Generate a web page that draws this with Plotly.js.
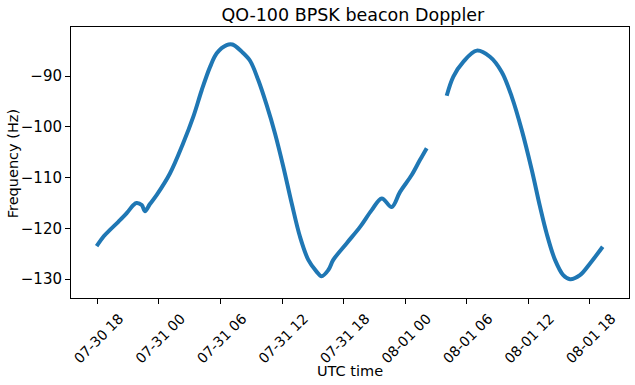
<!DOCTYPE html>
<html>
<head>
<meta charset="utf-8">
<script src="https://cdn.plot.ly/plotly-3.0.1.min.js"></script>
<style>html,body{margin:0;padding:0;background:#fff;}#chart{width:635px;height:385px;}</style>
</head>
<body>
<div id="chart"></div>
<script>
// Segment 1 of the beacon track (before the data gap)
var time1 = [
  "2020-07-30 17:55","2020-07-30 18:38","2020-07-30 19:13","2020-07-30 20:02","2020-07-30 20:51",
  "2020-07-30 21:30","2020-07-30 21:49","2020-07-30 22:19","2020-07-30 22:38","2020-07-30 23:07",
  "2020-07-30 23:47","2020-07-31 01:04","2020-07-31 02:22","2020-07-31 03:21","2020-07-31 04:10",
  "2020-07-31 04:59","2020-07-31 05:38","2020-07-31 06:36","2020-07-31 07:10","2020-07-31 08:04",
  "2020-07-31 08:53","2020-07-31 09:41","2020-07-31 10:30","2020-07-31 11:19","2020-07-31 12:08",
  "2020-07-31 12:57","2020-07-31 13:45","2020-07-31 14:34","2020-07-31 15:20","2020-07-31 15:52",
  "2020-07-31 16:31","2020-07-31 17:00","2020-07-31 18:19","2020-07-31 19:37","2020-07-31 20:45",
  "2020-07-31 21:44","2020-07-31 22:42","2020-07-31 23:31","2020-08-01 00:39","2020-08-01 01:28",
  "2020-08-01 02:07"
];
var freq1 = [
  -123.5,-121.5,-120.3,-118.7,-117.0,
  -115.4,-115.0,-115.4,-116.6,-115.2,
  -113.4,-109.2,-103.2,-98.0,-92.8,
  -88.2,-85.5,-83.9,-83.8,-85.2,
  -87.0,-90.8,-95.7,-101.3,-107.9,
  -115.1,-121.6,-126.2,-128.4,-129.4,
  -128.2,-126.2,-122.9,-119.7,-116.4,
  -114.1,-115.8,-112.8,-109.5,-106.5,
  -104.2
];
// Segment 2 of the beacon track (after the data gap)
var time2 = [
  "2020-08-01 04:04","2020-08-01 04:43","2020-08-01 05:41","2020-08-01 07:00","2020-08-01 08:17",
  "2020-08-01 09:26","2020-08-01 10:25","2020-08-01 11:23","2020-08-01 12:22","2020-08-01 13:10",
  "2020-08-01 13:49","2020-08-01 14:38","2020-08-01 15:26","2020-08-01 16:06","2020-08-01 17:04",
  "2020-08-01 18:03","2020-08-01 19:17"
];
var freq2 = [
  -93.9,-90.1,-87.2,-85.0,-86.2,
  -89.2,-94.1,-100.6,-108.5,-115.7,
  -121.0,-126.2,-129.2,-130.0,-129.2,
  -126.9,-123.6
];
var yTicks = [-130,-120,-110,-100,-90];
var xTitle = "UTC time";
var yTitle = "Frequency (Hz)";
var chartTitle = "QO-100 BPSK beacon Doppler";

var yFont = {family: "DejaVu Sans", color: "#000", size: 15};
var xFont = {family: "DejaVu Sans", color: "#000", size: 14};
var titleFont = {family: "DejaVu Sans", color: "#000", size: 14.5};
var x = time1.concat([null]).concat(time2);
var y = freq1.concat([null]).concat(freq2);

var trace = {
  x: x, y: y, type: "scatter", mode: "lines",
  line: {color: "#1f77b4", width: 4, shape: "spline", smoothing: 1},
  connectgaps: false, hoverinfo: "skip"
};

var layout = {
  width: 635, height: 385,
  margin: {l: 71, r: 6, t: 27, b: 87},
  paper_bgcolor: "#fff", plot_bgcolor: "#fff",
  font: yFont,
  showlegend: false,
  title: {text: chartTitle, font: {family: "DejaVu Sans", size: 17.5, color: "#000"}, xref: "paper", x: 0.505, xanchor: "center", y: 0.962, yanchor: "middle"},
  xaxis: {
    type: "date",
    range: ["2020-07-30 15:25", "2020-08-01 21:51"],
    tick0: "2020-07-30 18:00", dtick: 6*3600*1000,
    tickformat: "%m-%d %H",
    tickangle: -45,
    ticks: "outside", ticklen: 5, tickwidth: 1, tickcolor: "#000",
    ticklabelshift: 22, ticklabelstandoff: 1,
    showline: true, linecolor: "#000", linewidth: 1, mirror: true,
    showgrid: false, zeroline: false,
    tickfont: xFont
  },
  yaxis: {
    range: [-133.7, -80.35],
    tickvals: yTicks,
    ticks: "outside", ticklen: 5, tickwidth: 1, tickcolor: "#000",
    showline: true, linecolor: "#000", linewidth: 1, mirror: true,
    showgrid: false, zeroline: false,
    tickfont: yFont
  },
  annotations: [
    {text: xTitle, xref: "paper", yref: "paper", x: 0.5, y: -0.27, xanchor: "center", yanchor: "middle", showarrow: false, font: titleFont},
    {text: yTitle, xref: "paper", yref: "paper", x: -0.105, y: 0.495, xanchor: "center", yanchor: "middle", textangle: -90, showarrow: false, font: titleFont}
  ]
};
Plotly.newPlot("chart", [trace], layout, {displayModeBar: false, staticPlot: true});
</script>
</body>
</html>
